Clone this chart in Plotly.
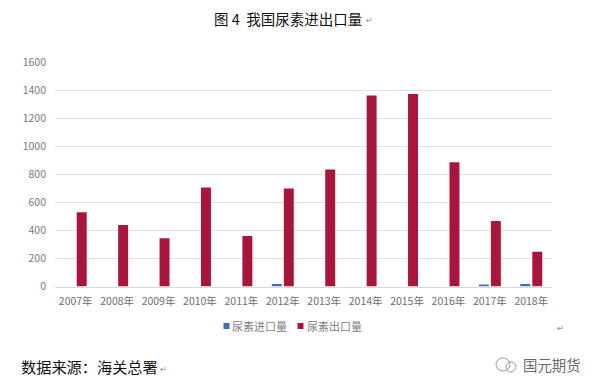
import plotly.graph_objects as go

years = ["2007年","2008年","2009年","2010年","2011年","2012年","2013年","2014年","2015年","2016年","2017年","2018年"]
imports = [0, 0, 0, 0, 0, 18, 0, 0, 0, 0, 11, 18]
exports = [530, 440, 345, 708, 360, 700, 835, 1365, 1375, 888, 468, 248]
y_ticks = [0, 200, 400, 600, 800, 1000, 1200, 1400, 1600]
series_names = ["尿素进口量", "尿素出口量"]
series_colors = ["#3E6DB0", "#A8163B"]

PAGE = 8  # the page's own margin around the figure
W, H = 600 - PAGE, 389 - PAGE
L, R, T, B = 55, 552, 62.5, 286.5
FONT = "Noto Sans CJK SC"

def px(x):
    return (x - PAGE) / W

def py(y):
    return 1 - (y - PAGE) / H

fig = go.Figure()
fig.add_bar(name=series_names[0], x=years, y=imports, marker_color=series_colors[0], marker_line_width=0)
fig.add_bar(name=series_names[1], x=years, y=exports, marker_color=series_colors[1], marker_line_width=0)

def label(text, x, y, size, color="#111111", anchor="left"):
    fig.add_annotation(text=text, x=px(x), y=py(y), xref="paper", yref="paper",
                       showarrow=False, xanchor=anchor, yanchor="middle", borderpad=0, borderwidth=0,
                       font=dict(family=FONT, size=size, color=color))

fig.update_layout(
    width=W, height=H, autosize=False, showlegend=False,
    margin=dict(l=0, r=0, t=0, b=0, autoexpand=False),
    paper_bgcolor="white", plot_bgcolor="white",
    barmode="group", bargap=0.42, bargroupgap=0.17,
    font=dict(family=FONT, size=11, color="#7A7A7A"),
    xaxis=dict(domain=[px(L), px(R)], showline=True, linecolor="#D9D9D9", linewidth=1,
               ticks="", ticklabelstandoff=5, tickfont=dict(size=10.5, color="#6E6E6E"), showgrid=False),
    yaxis=dict(domain=[py(B), py(T)], range=[0, 1600], tickvals=y_ticks, ticks="", ticklabelstandoff=8,
               showgrid=True, gridcolor="#E2E2E2", gridwidth=1, zeroline=False,
               tickfont=dict(size=10.5, color="#7A7A7A")),
)

# legend with the reference's small square keys
for name, color, key_x, text_x in zip(series_names, series_colors, [223.5, 297.5], [232, 307]):
    fig.add_shape(type="rect", xref="paper", yref="paper", x0=px(key_x), x1=px(key_x + 6),
                  y0=py(329), y1=py(323), fillcolor=color, line_width=0)
    label(name, text_x, 325.5, 11, "#7F7F7F")

label("图 4  我国尿素进出口量", 288, 19, 14.5, "#111111", "center")
label("↵", 366, 20, 8, "#888888")
label("数据来源：海关总署", 21, 366, 15.2, "#111111")
label("↵", 160, 368, 8, "#888888")
label("↵", 557, 327, 8, "#777777")
label("国元期货", 523, 364, 14.4, "#6A6A6A")

# watermark chat-bubble icon
for x0, x1, y0, y1 in [(496, 510, 358, 371), (506, 516, 362, 372)]:
    fig.add_shape(type="circle", xref="paper", yref="paper", x0=px(x0), x1=px(x1),
                  y0=py(y1), y1=py(y0), line=dict(color="#9A9A9A", width=1), fillcolor="rgba(0,0,0,0)")

fig.write_html("out.html")
